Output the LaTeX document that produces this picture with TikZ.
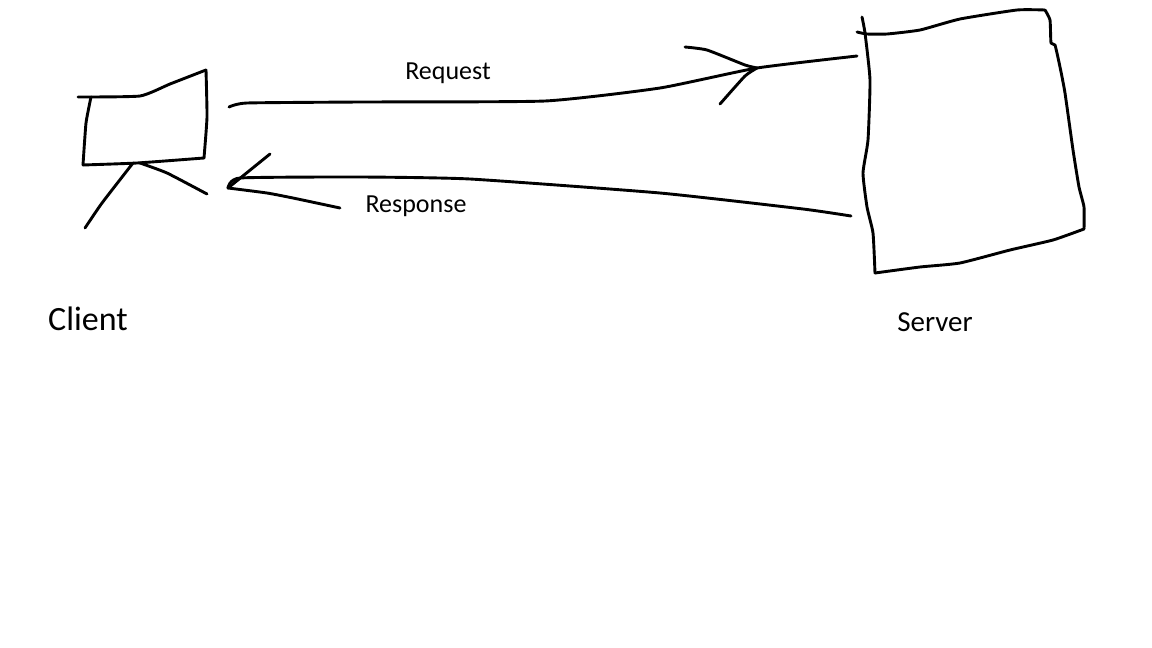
\documentclass[tikz,border=0pt]{standalone}
\usepackage{fontspec}
\setmainfont{Carlito}
\usepackage{tikz}

\begin{document}
\begin{tikzpicture}[x=1pt,y=-1pt,
  pen/.style={line width=2.9pt, line cap=round, line join=round},
  msg/.style={inner sep=0pt, font=\fontsize{26}{30}\selectfont},
  tag/.style={inner sep=0pt}]
\useasboundingbox (0,0) rectangle (1152,648);
% client sketch
\draw[pen] plot[smooth, tension=0.3] coordinates {(78,97) (140,96) (170,84) (206,70)};
\draw[pen] plot[smooth, tension=0.3] coordinates {(206,70) (207,117) (204,158)};
\draw[pen] plot[smooth, tension=0.3] coordinates {(204,158) (137,163) (83,165)};
\draw[pen] plot[smooth, tension=0.3] coordinates {(83,165) (86,123) (91,97)};
\draw[pen] plot[smooth, tension=0.3] coordinates {(133,163) (102,203) (85,228)};
\draw[pen] plot[smooth, tension=0.3] coordinates {(140,163) (167,173) (207,194)};
% server sketch
\draw[pen] plot[smooth, tension=0.3] coordinates {(862,17) (865,33) (870,80) (868,140) (863,173) (867,207) (873,233) (875,273)};
\draw[pen] plot[smooth, tension=0.3] coordinates {(857,32) (867,34) (887,34) (920,30) (960,19) (1017,10) (1045,10)};
\draw[pen] plot[smooth, tension=0.3] coordinates {(1045,10) (1050,20) (1051,43) (1055,45) (1060,67) (1065,93) (1073,150) (1079,187) (1084,207) (1084,229)};
\draw[pen] plot[smooth, tension=0.3] coordinates {(1084,229) (1053,240) (1010,250) (960,263) (920,267) (875,273)};
% arrows
\coordinate (reqstart) at (229,107);
\coordinate (reqtip) at (757,68);
\coordinate (reqend) at (857,56);
\coordinate (restip) at (228,188);
\coordinate (resstart) at (851,216);
\draw[pen] plot[smooth, tension=0.3] coordinates {(reqstart) (247,103) (360,102) (545,101) (660,88) (reqtip) (reqend)};
\draw[pen] plot[smooth, tension=0.3] coordinates {(685,47) (707,50) (745,65) (reqtip)};
\draw[pen] plot[smooth, tension=0.3] coordinates {(720,104) (745,76) (reqtip)};
\draw[pen] plot[smooth, tension=0.3] coordinates {(resstart) (803,209) (660,193) (470,179) (360,177) (240,178) (restip)};
\draw[pen] (restip) -- (270,154);
\draw[pen] plot[smooth, tension=0.3] coordinates {(restip) (267,193) (293,198) (340,208)};
% labels
\node[msg] (request) at (448,73) {Request};
\node[msg] (response) at (416,206) {Response};
\node[tag, font=\fontsize{34}{38}\selectfont] (client) at (88,319) {Client};
\node[tag, font=\fontsize{29}{33}\selectfont] (server) at (935,322) {Server};
\end{tikzpicture}
\end{document}
